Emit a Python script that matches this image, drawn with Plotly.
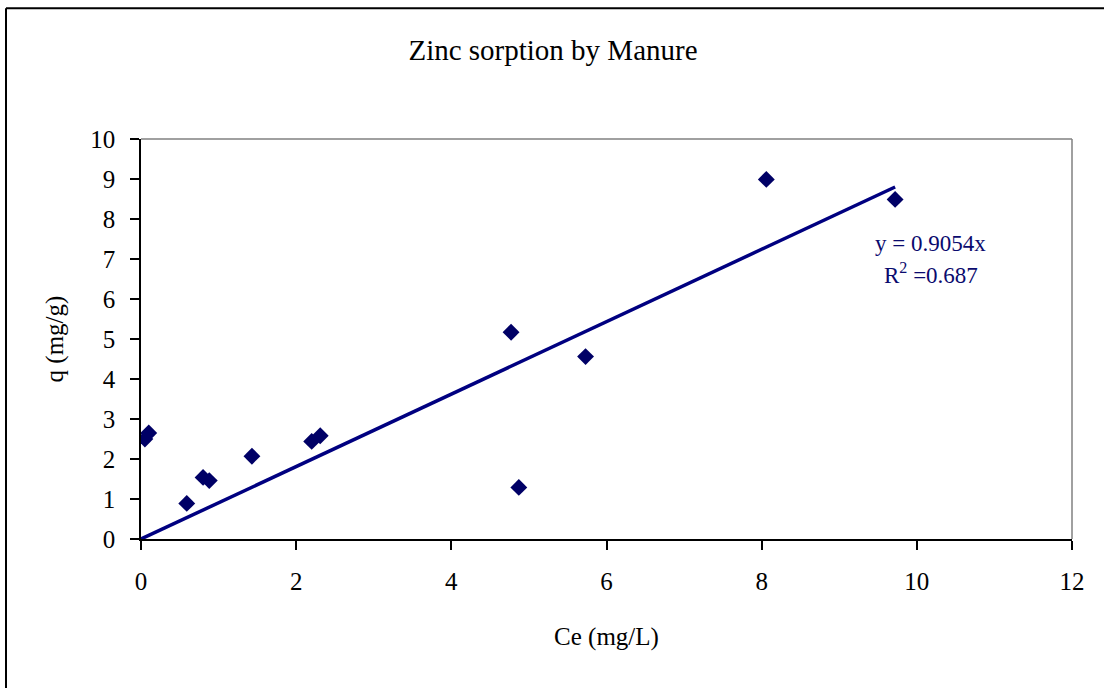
import numpy as np
import plotly.graph_objects as go

# Data
ce = [0.05, 0.10, 0.59, 0.80, 0.88, 1.43, 2.20, 2.31, 4.77, 4.87, 5.73, 8.06, 9.72]
q = [2.50, 2.65, 0.89, 1.54, 1.46, 2.07, 2.44, 2.58, 5.17, 1.29, 4.56, 8.99, 8.49]
slope = 0.9054
r2 = 0.687
x_ticks = [0, 2, 4, 6, 8, 10, 12]
y_ticks = list(range(0, 11))

navy = "#000080"
font_family = "Liberation Serif, Times New Roman, serif"

fig = go.Figure()

x_line = np.array([0.0, max(ce)])
fig.add_trace(go.Scatter(
    x=x_line, y=slope * x_line, mode="lines",
    line=dict(color=navy, width=3.5), showlegend=False, hoverinfo="skip"))

fig.add_trace(go.Scatter(
    x=ce, y=q, mode="markers",
    marker=dict(symbol="diamond", size=13, color="#000066"),
    showlegend=False))

fig.add_annotation(x=10.18, y=7.40, xref="x", yref="y", showarrow=False,
                   text=f"y = {slope}x", font=dict(family=font_family, size=23, color="#0a0a6e"))
fig.add_annotation(x=10.18, y=6.65, xref="x", yref="y", showarrow=False,
                   text=f"R<sup>2</sup> =0.{str(r2).split('.')[1]}",
                   font=dict(family=font_family, size=23, color="#0a0a6e"))

W, H = 1104, 688
L, R, T, B = 141, 1072, 139, 539.5
pw, ph = R - L, B - T

def px_to_paper_x(px):
    return (px - L) / pw

def px_to_paper_y(py):
    return (B - py) / ph

# Outer frame (top and left edges visible)
fig.add_shape(type="line", xref="paper", yref="paper",
              x0=px_to_paper_x(6), x1=px_to_paper_x(1110),
              y0=px_to_paper_y(8), y1=px_to_paper_y(8),
              line=dict(color="black", width=2))
fig.add_shape(type="line", xref="paper", yref="paper",
              x0=px_to_paper_x(6), x1=px_to_paper_x(6),
              y0=px_to_paper_y(8), y1=px_to_paper_y(700),
              line=dict(color="black", width=2))
# Plot area top/right gray border
fig.add_shape(type="line", xref="paper", yref="paper", x0=0, x1=1, y0=1, y1=1,
              line=dict(color="#808080", width=1.5))
fig.add_shape(type="line", xref="paper", yref="paper", x0=1, x1=1, y0=0, y1=1,
              line=dict(color="#808080", width=1.5))

fig.update_layout(
    width=W, height=H,
    margin=dict(l=L, r=W - R, t=T, b=H - B, pad=0),
    paper_bgcolor="white", plot_bgcolor="white",
    font=dict(family=font_family, size=24, color="black"),
    title=dict(text="Zinc sorption by Manure", x=(553) / W, xanchor="center",
               y=1 - 50 / H, yanchor="middle",
               font=dict(family=font_family, size=29, color="black")),
    xaxis=dict(range=[0, 12], tickvals=x_ticks, ticks="outside", ticklen=9,
               tickwidth=1.5, tickcolor="black", showline=True, linecolor="black",
               linewidth=1.5, showgrid=False, zeroline=False,
               tickfont=dict(size=25), ticklabelstandoff=10,
               title=dict(text="Ce (mg/L)", font=dict(size=25), standoff=34)),
    yaxis=dict(range=[0, 10], tickvals=y_ticks, ticks="outside", ticklen=9,
               tickwidth=1.5, tickcolor="black", showline=True, linecolor="black",
               linewidth=1.5, showgrid=False, zeroline=False,
               tickfont=dict(size=25), ticklabelstandoff=10,
               title=dict(text="q (mg/g)", font=dict(size=25), standoff=20)),
)

fig.write_html("out.html", config={"displayModeBar": False},
               post_script="document.body.style.margin='0';document.body.style.overflow='hidden';")
